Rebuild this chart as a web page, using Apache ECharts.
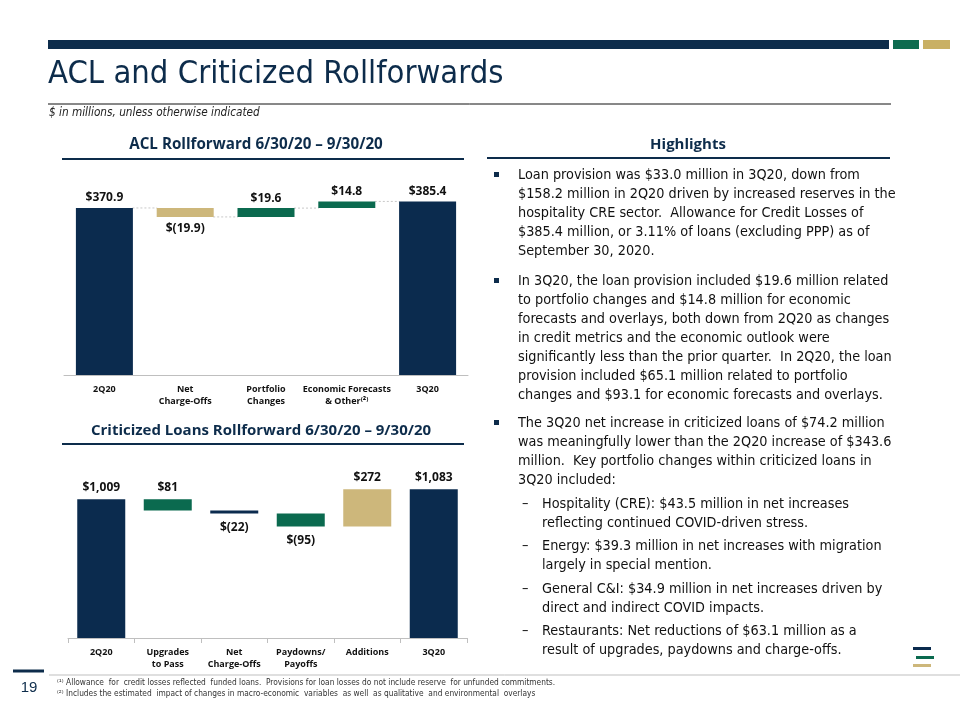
<!DOCTYPE html>
<html><head><meta charset="utf-8">
<script src="https://cdn.jsdelivr.net/npm/echarts@6/dist/echarts.min.js"></script>
<style>html,body{margin:0;padding:0;background:#fff}#c{width:960px;height:720px}</style>
</head><body><div id="c"></div>
<script>
// ---- data ----
const aclCategories = ['2Q20', 'Net\nCharge-Offs', 'Portfolio\nChanges', 'Economic Forecasts\n& Other\u207D\u00B2\u207E', '3Q20'];
const aclValues = [370.9, -19.9, 19.6, 14.8, 385.4];
const aclIsTotal = [true, false, false, false, true];
const aclLabels = ['$370.9', '$(19.9)', '$19.6', '$14.8', '$385.4'];

const critCategories = ['2Q20', 'Upgrades\nto Pass', 'Net\nCharge-Offs', 'Paydowns/\nPayoffs', 'Additions', '3Q20'];
const critValues = [1009, -81, -22, -95, 272, 1083];
const critIsTotal = [true, false, false, false, false, true];
const critLabels = ['$1,009', '$81', '$(22)', '$(95)', '$272', '$1,083'];
const critLabelBelow = [false, false, true, true, false, false];

const highlights = [
  {type: 'bullet', lines: [
    'Loan provision was $33.0 million in 3Q20, down from',
    '$158.2 million in 2Q20 driven by increased reserves in the',
    'hospitality CRE sector.  Allowance for Credit Losses of',
    '$385.4 million, or 3.11% of loans (excluding PPP) as of',
    'September 30, 2020.']},
  {type: 'bullet', lines: [
    'In 3Q20, the loan provision included $19.6 million related',
    'to portfolio changes and $14.8 million for economic',
    'forecasts and overlays, both down from 2Q20 as changes',
    'in credit metrics and the economic outlook were',
    'significantly less than the prior quarter.  In 2Q20, the loan',
    'provision included $65.1 million related to portfolio',
    'changes and $93.1 for economic forecasts and overlays.']},
  {type: 'bullet', lines: [
    'The 3Q20 net increase in criticized loans of $74.2 million',
    'was meaningfully lower than the 2Q20 increase of $343.6',
    'million.  Key portfolio changes within criticized loans in',
    '3Q20 included:']},
  {type: 'dash', lines: ['Hospitality (CRE): $43.5 million in net increases', 'reflecting continued COVID-driven stress.']},
  {type: 'dash', lines: ['Energy: $39.3 million in net increases with migration', 'largely in special mention.']},
  {type: 'dash', lines: ['General C&I: $34.9 million in net increases driven by', 'direct and indirect COVID impacts.']},
  {type: 'dash', lines: ['Restaurants: Net reductions of $63.1 million as a', 'result of upgrades, paydowns and charge-offs.']}
];
const footnotes = [
  '\u207D\u00B9\u207E Allowance  for  credit losses reflected  funded loans.  Provisions for loan losses do not include reserve  for unfunded commitments.',
  '\u207D\u00B2\u207E Includes the estimated  impact of changes in macro-economic  variables  as well  as qualitative  and environmental  overlays'
];

// ---- colors ----
const NAVY = '#0b2b4e', GREEN = '#0b6a4f', GOLD = '#cdb77b', HEAD = '#0d2c4b';
const aclColors = [NAVY, GOLD, GREEN, GREEN, NAVY];
const critColors = [NAVY, GREEN, NAVY, GREEN, GOLD, NAVY];
const BODY_FONT = '"Liberation Sans Narrow", "DejaVu Sans Condensed", Lato, sans-serif';
const BOLD_FONT = '"Open Sans", "Noto Sans", sans-serif';

function waterfall(values, isTotal) {
  const base = [], bar = [], levels = [];
  let run = 0;
  values.forEach((v, i) => {
    if (isTotal[i]) { base.push(0); bar.push(v); run = v; }
    else { const nxt = run + v; base.push(Math.min(run, nxt)); bar.push(Math.abs(v)); run = nxt; }
    levels.push(run);
  });
  return {base, bar, levels};
}
const acl = waterfall(aclValues, aclIsTotal);
const crit = waterfall(critValues, critIsTotal);
// connectors for ACL: running level after item i, drawn between bar i and bar i+1
const aclConnectors = acl.levels.slice(0, -1).map((lv, i) => [i, lv]);

// ---- graphics (slide chrome and text) ----
const graphics = [];
graphics.push({type: 'rect', shape: {x: 48, y: 40, width: 841, height: 9}, style: {fill: HEAD}});
graphics.push({type: 'rect', shape: {x: 893, y: 40, width: 26, height: 9}, style: {fill: '#0e6b4f'}});
graphics.push({type: 'rect', shape: {x: 923, y: 40, width: 27, height: 9}, style: {fill: '#c9b064'}});
graphics.push({type: 'text', x: 48, y: 75, style: {text: 'ACL and Criticized Rollforwards', fill: HEAD, font: '32.5px ' + BODY_FONT, textVerticalAlign: 'middle'}});
graphics.push({type: 'line', shape: {x1: 48, y1: 104, x2: 891, y2: 104}, style: {stroke: '#111', lineWidth: 1}});
graphics.push({type: 'text', x: 49, y: 113, style: {text: '$ in millions, unless otherwise indicated', fill: '#222', font: 'italic 11.7px ' + BODY_FONT, textVerticalAlign: 'middle'}});

function sectionHead(text, cx, cy, x1, x2, ly, size) {
  graphics.push({type: 'text', x: cx, y: cy, style: {text: text, fill: HEAD, font: 'bold ' + size + 'px ' + BOLD_FONT, textAlign: 'center', textVerticalAlign: 'middle'}});
  graphics.push({type: 'line', shape: {x1: x1, y1: ly, x2: x2, y2: ly}, style: {stroke: HEAD, lineWidth: 2}});
}
sectionHead('ACL Rollforward 6/30/20 \u2013 9/30/20', 256, 145, 62, 464, 159, 15.2);
sectionHead('Highlights', 688, 145, 487, 890, 158, 15);
sectionHead('Criticized Loans Rollforward 6/30/20 \u2013 9/30/20', 261, 431, 62, 464, 444, 15);

// highlights text
const paraStarts = [175, 281, 423, 504, 546, 589, 631];
const LH = 19;
highlights.forEach((p, pi) => {
  const y0 = paraStarts[pi];
  if (p.type === 'bullet') {
    graphics.push({type: 'rect', shape: {x: 494, y: y0 - 3, width: 5, height: 5}, style: {fill: HEAD}});
  } else {
    graphics.push({type: 'text', x: 522, y: y0, style: {text: '\u2013', fill: '#111', font: '14.3px ' + BODY_FONT, textVerticalAlign: 'middle'}});
  }
  const tx = p.type === 'bullet' ? 518 : 542;
  p.lines.forEach((ln, li) => {
    graphics.push({type: 'text', x: tx, y: y0 + li * LH, style: {text: ln, fill: '#111', font: '14.3px ' + BODY_FONT, textVerticalAlign: 'middle'}});
  });
});

// footer
graphics.push({type: 'line', shape: {x1: 49, y1: 675, x2: 960, y2: 675}, style: {stroke: '#bfbfbf', lineWidth: 1}});
graphics.push({type: 'line', shape: {x1: 13, y1: 671, x2: 44, y2: 671}, style: {stroke: HEAD, lineWidth: 3}});
graphics.push({type: 'text', x: 29, y: 688, style: {text: '19', fill: HEAD, font: '15px "Liberation Sans", sans-serif', textAlign: 'center', textVerticalAlign: 'middle'}});
footnotes.forEach((f, i) => {
  graphics.push({type: 'text', x: 57, y: 683 + i * 11, style: {text: f, fill: '#333', font: '8.3px ' + BODY_FONT, textVerticalAlign: 'middle'}});
});
// logo marks
graphics.push({type: 'rect', shape: {x: 913, y: 647, width: 18, height: 3}, style: {fill: NAVY}});
graphics.push({type: 'rect', shape: {x: 916, y: 656, width: 18, height: 3}, style: {fill: GREEN}});
graphics.push({type: 'rect', shape: {x: 913, y: 664, width: 18, height: 3}, style: {fill: GOLD}});

const catLabel = {interval: 0, color: '#111', fontWeight: 'bold', fontSize: 9, fontFamily: BOLD_FONT, lineHeight: 12, margin: 8};
const valLabelStyle = {show: true, color: '#111', fontWeight: 'bold', fontSize: 12, fontFamily: BOLD_FONT};

const option = {
  animation: false,
  backgroundColor: '#fff',
  graphic: graphics,
  grid: [
    {left: 64, width: 404, top: 180, height: 195},
    {left: 68, width: 399, top: 460, height: 178}
  ],
  xAxis: [
    {type: 'category', gridIndex: 0, data: aclCategories, axisLine: {lineStyle: {color: '#bfbfbf'}}, axisTick: {show: false}, axisLabel: catLabel},
    {type: 'category', gridIndex: 1, data: critCategories, axisLine: {lineStyle: {color: '#bfbfbf'}}, axisTick: {show: true, length: 5, lineStyle: {color: '#bfbfbf'}}, axisLabel: catLabel}
  ],
  yAxis: [
    {type: 'value', gridIndex: 0, min: 0, max: 433, show: false, splitLine: {show: false}},
    {type: 'value', gridIndex: 1, min: 0, max: 1295, show: false, splitLine: {show: false}}
  ],
  series: [
    {type: 'custom', xAxisIndex: 0, yAxisIndex: 0, z: 1, data: aclConnectors,
      renderItem: function (params, api) {
        const i = api.value(0), lv = api.value(1);
        const p1 = api.coord([i, lv]), p2 = api.coord([i + 1, lv]);
        return {type: 'line', shape: {x1: p1[0] + 28, y1: p1[1], x2: p2[0] - 28, y2: p2[1]},
          style: {stroke: '#c8c8c8', lineWidth: 1, lineDash: [2, 2]}};
      }},
    {type: 'bar', xAxisIndex: 0, yAxisIndex: 0, stack: 'acl', barWidth: 57, itemStyle: {color: 'transparent'}, data: acl.base, silent: true},
    {type: 'bar', xAxisIndex: 0, yAxisIndex: 0, stack: 'acl', barWidth: 57, z: 3,
      data: acl.bar.map((v, i) => ({value: v, itemStyle: {color: aclColors[i]},
        label: Object.assign({}, valLabelStyle, {position: aclValues[i] < 0 ? 'bottom' : 'top', distance: aclValues[i] < 0 ? 6 : 4, formatter: aclLabels[i]})}))},
    {type: 'bar', xAxisIndex: 1, yAxisIndex: 1, stack: 'crit', barWidth: 48, itemStyle: {color: 'transparent'}, data: crit.base, silent: true},
    {type: 'bar', xAxisIndex: 1, yAxisIndex: 1, stack: 'crit', barWidth: 48, z: 3,
      data: crit.bar.map((v, i) => ({value: v, itemStyle: {color: critColors[i]},
        label: Object.assign({}, valLabelStyle, {position: critLabelBelow[i] ? 'bottom' : 'top', distance: critLabelBelow[i] ? 8 : 6, formatter: critLabels[i]})}))}
  ]
};
const chart = echarts.init(document.getElementById('c'), null, {renderer: 'canvas'});
chart.setOption(option);
</script>
</body></html>
